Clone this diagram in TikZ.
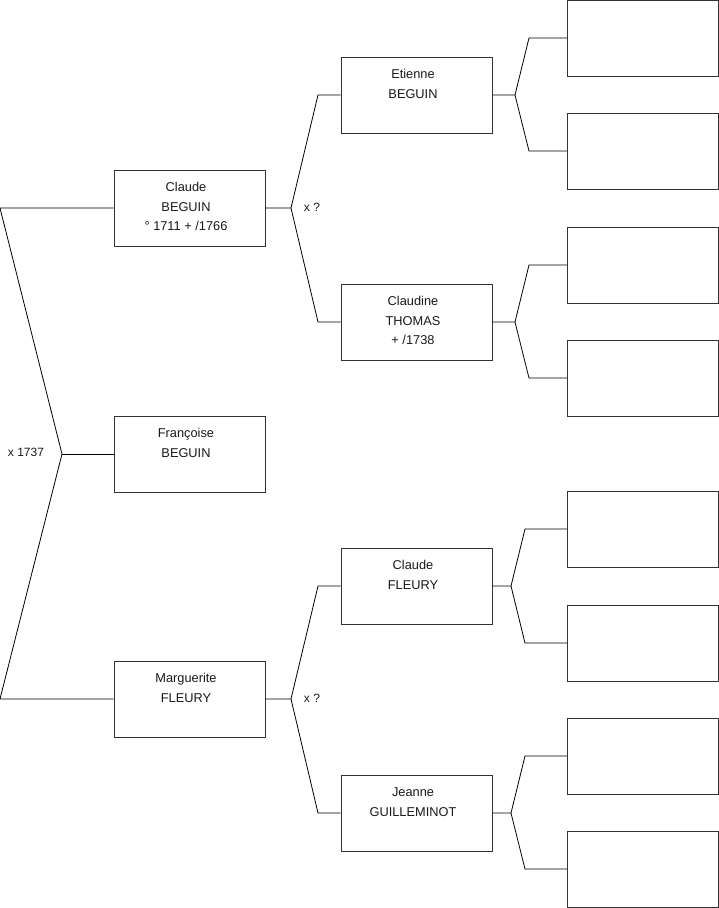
\documentclass[tikz,border=0pt]{standalone}
\usepackage{fontspec}
\setmainfont{Liberation Sans}
\newcommand\ptext[1]{\parbox[c][76pt][t]{151pt}{\centering\rightskip=7pt plus 1fil\baselineskip=19.7pt\rule{0pt}{21.5pt}#1\par}}
\tikzset{
  person/.style={draw=black!80, line width=0.8pt, inner sep=0pt, font=\fontsize{12.8pt}{19.7pt}\selectfont, text=black!90},
  lbl/.style={font=\fontsize{12pt}{14pt}\selectfont, text=black!90, inner sep=0pt},
  link/.style={draw=black, line width=0.8pt}
}
\begin{document}
\begin{tikzpicture}[x=1pt,y=-1pt]
\useasboundingbox (0,0) rectangle (719,908);
% people
\node[person] (claude) at (189.5,208) {\ptext{Claude\\BEGUIN\\° 1711 + /1766}};
\node[person] (francoise) at (189.5,454) {\ptext{Françoise\\BEGUIN}};
\node[person] (marguerite) at (189.5,699) {\ptext{Marguerite\\FLEURY}};
\node[person] (etienne) at (416.5,95) {\ptext{Etienne\\BEGUIN}};
\node[person] (claudine) at (416.5,322) {\ptext{Claudine\\THOMAS\\ + /1738}};
\node[person] (claudef) at (416.5,586) {\ptext{Claude\\FLEURY}};
\node[person] (jeanne) at (416.5,813) {\ptext{Jeanne\\GUILLEMINOT}};
% empty ancestors
\foreach \n/\y in {e1/38,e2/151,e3/265,e4/378,e5/529,e6/643,e7/756,e8/869}
  \node[person] (\n) at (643,\y) {\ptext{}};
% left fork
\coordinate (l1) at (0,208);
\coordinate (l2) at (0,699);
\coordinate (v) at (62,454);
\draw[link] (claude.west) -- (l1) -- (v) -- (l2) -- (marguerite.west);
\draw[link] (v) -- (francoise.west);
\node[lbl] (m1737) at (26,452) {x 1737};
% Claude BEGUIN parents
\coordinate (f1) at (291,208);
\draw[link] (claude.east) -- (f1) -- (318,95) -- (etienne.west);
\draw[link] (f1) -- (318,322) -- (claudine.west);
\node[lbl] (mq1) at (312,207) {x ?};
% Marguerite parents
\coordinate (f2) at (291,699);
\draw[link] (marguerite.east) -- (f2) -- (318,586) -- (claudef.west);
\draw[link] (f2) -- (318,813) -- (jeanne.west);
\node[lbl] (mq2) at (312,698) {x ?};
% grandparents forks
\coordinate (g1) at (515,95);
\draw[link] (etienne.east) -- (g1) -- (529,38) -- (e1.west);
\draw[link] (g1) -- (529,151) -- (e2.west);
\coordinate (g2) at (515,322);
\draw[link] (claudine.east) -- (g2) -- (529,265) -- (e3.west);
\draw[link] (g2) -- (529,378) -- (e4.west);
\coordinate (g3) at (511,586);
\draw[link] (claudef.east) -- (g3) -- (525,529) -- (e5.west);
\draw[link] (g3) -- (525,643) -- (e6.west);
\coordinate (g4) at (511,813);
\draw[link] (jeanne.east) -- (g4) -- (525,756) -- (e7.west);
\draw[link] (g4) -- (525,869) -- (e8.west);
\end{tikzpicture}
\end{document}
